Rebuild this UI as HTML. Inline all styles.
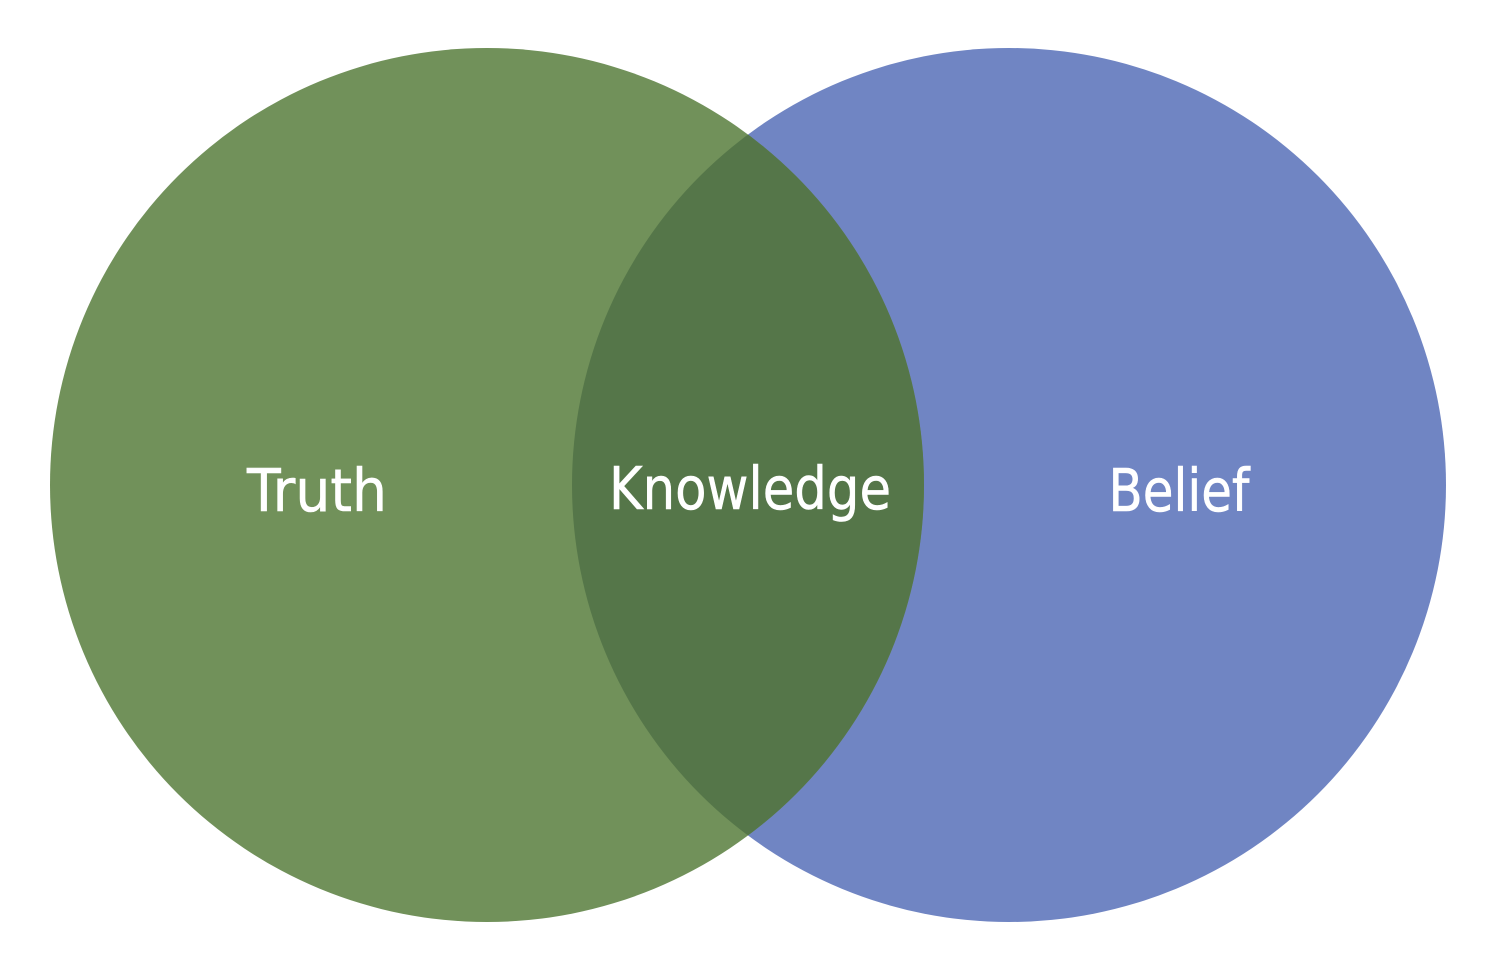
<!DOCTYPE html>
<html>
<head>
<meta charset="utf-8">
<style>
html,body{margin:0;padding:0;background:#fff;width:1500px;height:979px;overflow:hidden}
svg{display:block}
text{font-family:"DejaVu Sans","Liberation Sans",sans-serif;fill:#fff;stroke:#fff;stroke-width:.6px;font-size:59px}
</style>
</head>
<body>
<svg width="1500" height="979" viewBox="0 0 1500 979" xmlns="http://www.w3.org/2000/svg">
<defs>
<clipPath id="c"><circle cx="487" cy="485" r="437"/></clipPath>
</defs>
<rect width="1500" height="979" fill="#fff"/>
<circle cx="1009" cy="485" r="437" fill="#7085c3"/>
<circle cx="487" cy="485" r="437" fill="#71915a"/>
<circle cx="1009" cy="485" r="437" fill="#557649" clip-path="url(#c)"/>
<text x="317" y="511" text-anchor="middle" textLength="140" lengthAdjust="spacingAndGlyphs">Truth</text>
<text x="750" y="509" text-anchor="middle" textLength="282" lengthAdjust="spacingAndGlyphs">Knowledge</text>
<text x="1179" y="511" text-anchor="middle" textLength="141" lengthAdjust="spacingAndGlyphs">Belief</text>
</svg>
</body>
</html>
